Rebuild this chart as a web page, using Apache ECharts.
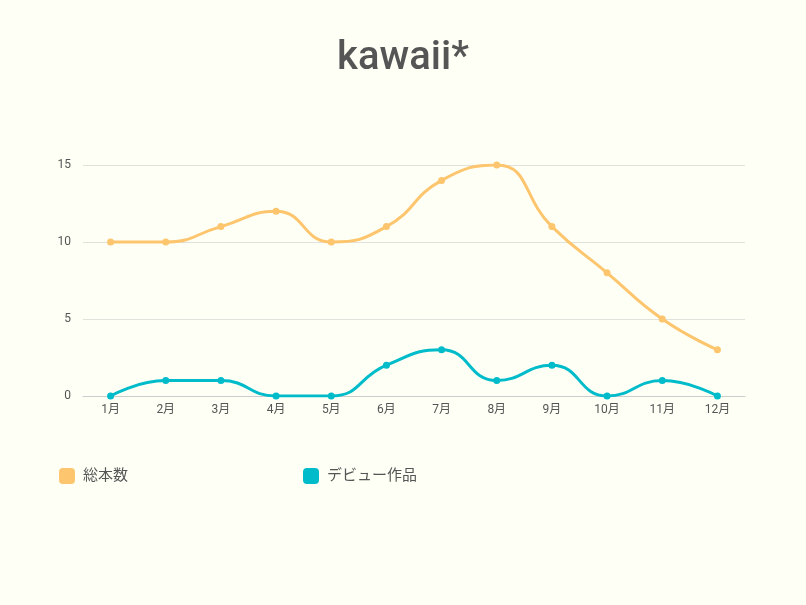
<!DOCTYPE html>
<html>
<head>
<meta charset="utf-8">
<script src="https://cdn.jsdelivr.net/npm/echarts@6/dist/echarts.min.js"></script>
<style>
html,body{margin:0;padding:0;background:#fefff5;}
#container{width:806px;height:605px;}
</style>
</head>
<body>
<div id="container"></div>
<script>
var months = ['1月','2月','3月','4月','5月','6月','7月','8月','9月','10月','11月','12月'];
var seriesNames = ['総本数', 'デビュー作品'];
var totalCount = [10, 10, 11, 12, 10, 11, 14, 15, 11, 8, 5, 3];
var debutCount = [0, 1, 1, 0, 0, 2, 3, 1, 2, 0, 1, 0];
var colors = ['#fdc56d', '#00bcca'];

var dom = document.getElementById('container');
var myChart = echarts.init(dom);

var font = 'Roboto, "Noto Sans CJK JP", sans-serif';

var option = {
    backgroundColor: '#fefff5',
    color: colors,
    title: {
        text: 'kawaii*',
        left: 'center',
        top: 34,
        textStyle: {
            fontFamily: font,
            fontSize: 40,
            fontWeight: 500,
            color: '#555555'
        }
    },
    legend: {
        data: seriesNames,
        left: 54,
        top: 463,
        icon: 'roundRect',
        itemWidth: 16,
        itemHeight: 16,
        itemGap: 175,
        textStyle: {
            fontFamily: font,
            fontSize: 15,
            color: '#555555',
            padding: [0, 0, 0, 3]
        }
    },
    grid: {
        left: 83,
        right: 61,
        top: 165,
        bottom: 209
    },
    xAxis: {
        type: 'category',
        data: months,
        axisTick: { show: false },
        axisLine: { lineStyle: { color: '#cccccc' } },
        axisLabel: {
            fontFamily: font,
            fontSize: 12,
            color: '#555555'
        }
    },
    yAxis: {
        type: 'value',
        min: 0,
        max: 15,
        interval: 5,
        axisLine: { show: false },
        axisTick: { show: false },
        axisLabel: {
            fontFamily: font,
            fontSize: 12,
            color: '#555555',
            margin: 12
        },
        splitLine: { lineStyle: { color: '#e2e2dc' } }
    },
    series: [{
        name: seriesNames[0],
        type: 'line',
        smooth: true,
        symbol: 'circle',
        symbolSize: 7,
        lineStyle: { width: 3 },
        data: totalCount
    }, {
        name: seriesNames[1],
        type: 'line',
        smooth: true,
        symbol: 'circle',
        symbolSize: 7,
        lineStyle: { width: 3 },
        data: debutCount
    }]
};
myChart.setOption(option, true);
</script>
</body>
</html>
